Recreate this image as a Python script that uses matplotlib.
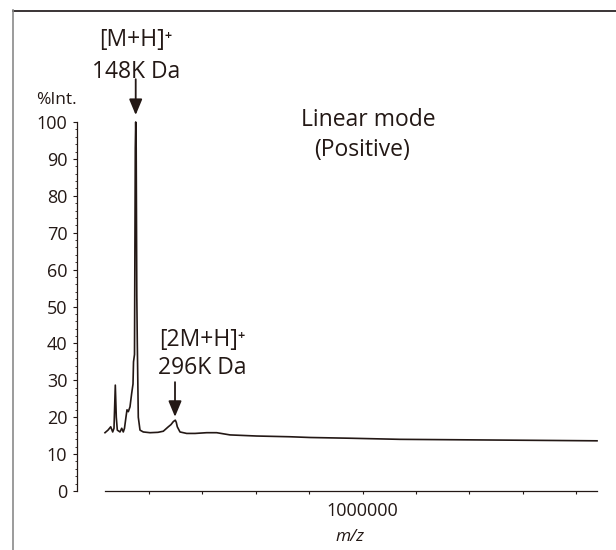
import matplotlib
matplotlib.use("Agg")
import matplotlib.pyplot as plt
from matplotlib.lines import Line2D

# spectrum (m/z, %Int.)
mz = [35200, 46400, 56600, 64000, 68900, 73800, 77500, 81300, 91400, 97800,
      103700, 108200, 113900, 117600, 122500, 128800, 135200, 140100, 142000, 145700,
      148700, 150200, 152000, 154300, 156200, 159900, 166300, 178600, 203700, 233700,
      253600, 272300, 282400, 291000, 298500, 302200, 306000, 316100, 341200, 372300,
      416100, 453600, 503400, 603400, 728100, 803000, 952800, 1140000, 1327000, 1515000,
      1702000, 1878000]
intensity = [15.8, 16.5, 17.4, 16.0, 17.0, 28.7, 20.0, 16.5, 16.0, 17.0,
             16.0, 17.0, 20.1, 22.0, 21.5, 22.8, 26.5, 29.0, 35.0, 37.0,
             93.0, 100.0, 93.0, 53.0, 40.0, 20.0, 16.5, 16.0, 15.8, 15.9,
             16.2, 17.4, 18.0, 18.8, 19.2, 18.6, 17.4, 16.0, 15.6, 15.6,
             15.8, 15.8, 15.2, 14.9, 14.7, 14.5, 14.3, 14.0, 13.9, 13.8,
             13.7, 13.6]

xticks = [200000, 400000, 600000, 800000, 1000000, 1200000, 1400000, 1600000, 1800000]
xticklabels = ["", "", "", "", "1000000", "", "", "", ""]
yticks = [0, 10, 20, 30, 40, 50, 60, 70, 80, 90, 100]

ink = "#231815"
fam = ["Open Sans", "DejaVu Sans"]
plt.rcParams["font.family"] = fam

fig = plt.figure(figsize=(6.16, 5.5), dpi=100)
ax = fig.add_axes([77 / 616, 1 - 491 / 550, 520 / 616, 369 / 550])

# outer frame (top and left only)
fig.add_artist(Line2D([13 / 616, 1], [1 - 10.5 / 550, 1 - 10.5 / 550], color="#3a3435", lw=1.4))
fig.add_artist(Line2D([13 / 616, 13 / 616], [1 - 10 / 550, 0], color="#8a8a8a", lw=1.2))

ax.plot(mz, intensity, color=ink, lw=1.2, clip_on=False)

ax.set_xlim(-69660, 1877900)
ax.set_ylim(0, 100)
for s in ["top", "right"]:
    ax.spines[s].set_visible(False)
ax.spines["left"].set_linewidth(0.9)
ax.spines["bottom"].set_linewidth(0.9)
ax.spines["left"].set_color(ink)
ax.spines["bottom"].set_color(ink)
ax.spines["bottom"].set_bounds(35200, 1877900)

ax.set_xticks(xticks)
ax.set_xticklabels(xticklabels)
ax.set_yticks(yticks)
ax.set_yticks(range(0, 101, 2), minor=True)
ax.tick_params(axis="y", which="major", direction="out", length=3, width=0.8,
               color=ink, labelsize=13, labelcolor=ink, pad=4)
ax.tick_params(axis="y", which="minor", direction="out", length=1.8, width=0.6, color=ink)
ax.tick_params(axis="x", which="major", direction="out", length=2, width=0.8,
               color=ink, labelsize=13, labelcolor=ink, pad=6)

ax.text(-0.04, 1.06, "%Int.", transform=ax.transAxes, ha="center", va="center",
        fontsize=12.5, color=ink)
ax.text(0.525, -0.125, "m/z", transform=ax.transAxes, ha="center", va="center",
        fontsize=12.5, color=ink, style="italic")

# peak labels
ax.text(150200, 122.2, "[M+H]⁺", ha="center", va="center", fontsize=16.5, color=ink, clip_on=False)
ax.text(150200, 113.6, "148K Da", ha="center", va="center", fontsize=16.5, color=ink, clip_on=False)
ax.annotate("", xy=(150200, 101.9), xytext=(150200, 111.6), annotation_clip=False,
            arrowprops=dict(arrowstyle="-|>,head_length=0.6,head_width=0.25",
                            mutation_scale=16, color=ink, lw=1.3, shrinkA=0, shrinkB=0))

ax.text(398500, 41.0, "[2M+H]⁺", ha="center", va="center", fontsize=16.5, color=ink)
ax.text(398500, 33.3, "296K Da", ha="center", va="center", fontsize=16.5, color=ink)
ax.annotate("", xy=(297400, 20.1), xytext=(297400, 29.5),
            arrowprops=dict(arrowstyle="-|>,head_length=0.6,head_width=0.25",
                            mutation_scale=16, color=ink, lw=1.3, shrinkA=0, shrinkB=0))

ax.text(1020200, 100.5, "Linear mode", ha="center", va="center", fontsize=16.5, color=ink, clip_on=False)
ax.text(997700, 92.4, "(Positive)", ha="center", va="center", fontsize=16.5, color=ink)

fig.savefig("out.png", dpi=100)
